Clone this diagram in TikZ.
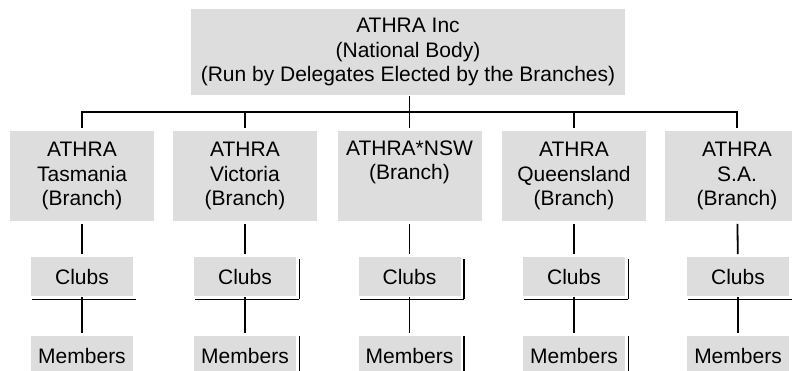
\documentclass[tikz,border=0pt]{standalone}
\usepackage{fontspec}
\setmainfont{Liberation Sans}
\definecolor{boxgray}{RGB}{221,221,221}
\begin{document}
\begin{tikzpicture}[x=1pt,y=-1pt,line width=1.8pt,font=\fontsize{21}{24.5}\selectfont,
		box/.style={fill=boxgray,inner sep=0pt,align=center},
		branch/.style={box,minimum width=144pt,minimum height=90pt},
		unit/.style={box,minimum width=102pt,minimum height=39pt}]
		\useasboundingbox (0,0) rectangle (792,370);
		\clip (0,0) rectangle (792,370);
		\coordinate (bus) at (0,112);
		\node[box,minimum width=434pt,minimum height=86pt] (top) at (408,52) {ATHRA Inc\\(National Body)\\(Run by Delegates Elected by the Branches)};
		\node[branch] (tas) at (82,176) {ATHRA\\Tasmania\\(Branch)};
		\node[branch] (vic) at (245,176) {ATHRA\\Victoria\\(Branch)};
		\node[branch] (nsw) at (409.5,176) {ATHRA*NSW\\(Branch)\\\strut};
		\node[branch] (qld) at (574,176) {ATHRA\\Queensland\\(Branch)};
		\node[branch] (sa) at (737,176) {ATHRA\\S.A.\\(Branch)};
		\draw (top.south -| nsw) -- ([yshift=2pt]nsw.north);
		\draw ([yshift=2pt]tas.north) |- (sa |- bus) -- ([yshift=2pt]sa.north);
		\draw (vic |- bus) -- ([yshift=2pt]vic.north);
		\draw (qld |- bus) -- ([yshift=2pt]qld.north);
		\foreach \b/\x in {tas/82,vic/245,nsw/409.5,qld/574,sa/738}{
			\node[unit] (\b clubs) at (\x,276.5) {Clubs};
			\node[unit] (\b members) at (\x,355.5) {Members};
			\draw[shorten <=2pt,shorten >=2pt] (\b) -- (\b clubs);
			\draw[shorten >=2pt] (\b clubs) -- (\b members);
			\draw ([xshift=2pt,yshift=-2.5pt]\b clubs.south west) -- ([xshift=2.5pt,yshift=-2.5pt]\b clubs.south east);
		}
		% right edges, none on Tasmania
		\foreach \b in {vic,nsw,qld,sa}{
			\draw ([xshift=2.5pt,yshift=-3pt]\b clubs.north east) -- ([xshift=2.5pt,yshift=-2.5pt]\b clubs.south east);
			\draw ([xshift=2.5pt,yshift=-1pt]\b members.north east) -- ([xshift=2.5pt,yshift=-2.5pt]\b members.south east);
		}
\end{tikzpicture}
\end{document}
